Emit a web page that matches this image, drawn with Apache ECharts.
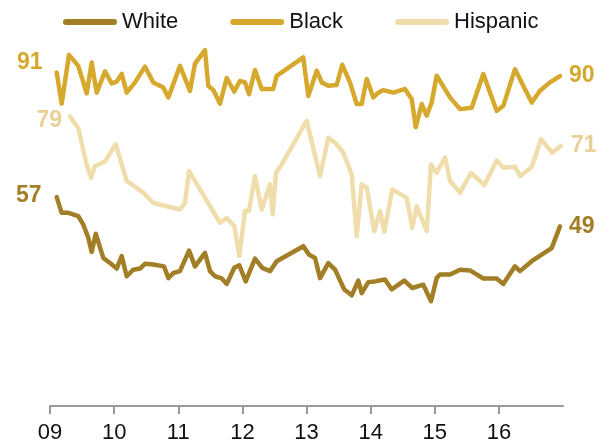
<!DOCTYPE html>
<html>
<head>
<meta charset="utf-8">
<script src="https://cdn.jsdelivr.net/npm/echarts@6/dist/echarts.min.js"></script>
<style>
html,body{margin:0;padding:0;background:#fff;}
#chart{width:613px;height:447px;}
</style>
</head>
<body>
<div id="chart"></div>
<script>
const tickYears = [2009, 2010, 2011, 2012, 2013, 2014, 2015, 2016];
const tickLabels = ['09', '10', '11', '12', '13', '14', '15', '16'];
const seriesNames = ['White', 'Black', 'Hispanic'];

const whiteYears = [2009.104, 2009.182, 2009.285, 2009.441, 2009.519, 2009.597, 2009.650, 2009.713, 2009.831, 2009.936, 2010.040, 2010.118, 2010.196, 2010.299, 2010.404, 2010.481, 2010.611, 2010.778, 2010.845, 2010.923, 2011.027, 2011.168, 2011.261, 2011.417, 2011.495, 2011.573, 2011.678, 2011.756, 2011.874, 2011.952, 2012.052, 2012.197, 2012.311, 2012.431, 2012.535, 2012.950, 2013.039, 2013.133, 2013.211, 2013.340, 2013.445, 2013.589, 2013.705, 2013.808, 2013.861, 2013.964, 2014.068, 2014.224, 2014.329, 2014.525, 2014.650, 2014.821, 2014.942, 2015.030, 2015.082, 2015.238, 2015.394, 2015.550, 2015.757, 2015.966, 2016.069, 2016.251, 2016.329, 2016.512, 2016.824, 2016.953];
const whiteValues = [57, 52.7, 52.7, 51.8, 49.5, 45.9, 42.0, 47.0, 40.4, 39.0, 37.5, 40.9, 35.4, 37.2, 37.5, 38.8, 38.6, 38.1, 34.9, 36.3, 36.8, 42.4, 38.1, 41.8, 36.8, 35.4, 34.8, 33.3, 37.7, 38.4, 34.0, 40.2, 37.7, 36.8, 39.5, 43.6, 41.3, 40.4, 34.9, 39.0, 37.2, 31.8, 30.2, 34.2, 30.8, 33.8, 34.0, 34.5, 31.8, 34.2, 32.2, 33.1, 28.6, 34.9, 35.9, 35.9, 37.2, 37.0, 34.8, 34.8, 33.3, 38.1, 36.8, 39.5, 43.1, 49];

const blackYears = [2009.104, 2009.182, 2009.296, 2009.441, 2009.572, 2009.650, 2009.728, 2009.858, 2009.962, 2010.040, 2010.118, 2010.196, 2010.326, 2010.481, 2010.611, 2010.767, 2010.845, 2011.027, 2011.183, 2011.261, 2011.417, 2011.468, 2011.547, 2011.651, 2011.756, 2011.874, 2011.963, 2012.041, 2012.103, 2012.197, 2012.301, 2012.482, 2012.535, 2012.950, 2013.028, 2013.159, 2013.237, 2013.340, 2013.471, 2013.558, 2013.678, 2013.783, 2013.861, 2013.939, 2014.042, 2014.120, 2014.198, 2014.354, 2014.536, 2014.641, 2014.703, 2014.797, 2014.874, 2014.952, 2015.030, 2015.238, 2015.394, 2015.576, 2015.757, 2015.966, 2016.069, 2016.251, 2016.512, 2016.641, 2016.797, 2016.953];
const blackValues = [91, 82.5, 95.8, 92.8, 85.3, 93.7, 85.5, 91.3, 88.0, 88.5, 90.6, 85.5, 88.3, 92.6, 88.3, 86.9, 84.2, 92.8, 86.0, 93.4, 97.1, 87.4, 86.2, 82.5, 89.5, 85.8, 88.7, 88.3, 85.1, 91.7, 86.5, 86.5, 90.1, 95.1, 84.6, 91.5, 88.3, 87.4, 87.6, 93.1, 88.3, 82.4, 82.4, 89.2, 84.2, 85.5, 86.2, 85.5, 86.5, 83.7, 76.1, 82.4, 79.2, 82.8, 90.1, 84.2, 81.0, 81.4, 90.6, 80.5, 81.9, 91.9, 82.8, 86.0, 88.3, 90];

const hispanicYears = [2009.312, 2009.441, 2009.572, 2009.639, 2009.702, 2009.858, 2010.025, 2010.196, 2010.455, 2010.611, 2011.027, 2011.105, 2011.168, 2011.417, 2011.651, 2011.756, 2011.874, 2011.952, 2012.041, 2012.103, 2012.197, 2012.301, 2012.431, 2012.473, 2012.524, 2012.613, 2013.003, 2013.211, 2013.340, 2013.471, 2013.574, 2013.705, 2013.783, 2013.861, 2013.939, 2014.057, 2014.146, 2014.213, 2014.338, 2014.563, 2014.650, 2014.719, 2014.874, 2014.942, 2015.030, 2015.160, 2015.238, 2015.394, 2015.565, 2015.773, 2015.966, 2016.069, 2016.251, 2016.329, 2016.512, 2016.657, 2016.833, 2016.969];
const hispanicValues = [79, 75.8, 65.9, 62.3, 65.5, 66.7, 71.4, 61.4, 58.2, 55.4, 53.6, 55.4, 64.1, 56.8, 50.0, 51.3, 49.1, 40.9, 53.2, 53.2, 62.7, 53.6, 60.5, 52.3, 63.6, 65.9, 77.8, 62.7, 73.2, 71.4, 69.1, 63.2, 46.3, 60.5, 59.5, 47.7, 53.2, 47.5, 59.1, 56.8, 48.6, 54.5, 47.7, 65.9, 63.6, 67.8, 61.4, 58.2, 63.6, 60.3, 67.0, 65.0, 65.3, 62.7, 65.2, 72.8, 69.1, 71];

const FONT = '"Liberation Sans", Arial, sans-serif';

function buildData(xs, ys, labelColor, startShift, endDist) {
  return xs.map(function (x, i) {
    const item = { value: [x, ys[i]] };
    const base = {
      show: true, color: labelColor, fontFamily: FONT, fontWeight: 'bold', fontSize: 23,
      formatter: function (p) { return String(Math.round(p.value[1])); }
    };
    if (i === 0) {
      item.label = Object.assign({}, base, { position: startShift, align: 'right', verticalAlign: 'middle' });
    } else if (i === xs.length - 1) {
      item.label = Object.assign({}, base, { position: 'right', distance: endDist });
    }
    return item;
  });
}

function lineSeries(name, xs, ys, color, labelColor, startShift, endDist) {
  return {
    name: name,
    type: 'line',
    symbol: 'circle',
    symbolSize: 0.01,
    showSymbol: true,
    showAllSymbol: true,
    data: buildData(xs, ys, labelColor, startShift, endDist),
    lineStyle: { color: color, width: 4.5, join: 'round', cap: 'round' },
    itemStyle: { color: color, opacity: 1 },
    label: { show: false },
    labelLayout: { hideOverlap: false },
    emphasis: { disabled: true },
    animation: false
  };
}

const chart = echarts.init(document.getElementById('chart'), null, { renderer: 'canvas' });
chart.setOption({
  backgroundColor: '#ffffff',
  animation: false,
  legend: {
    data: seriesNames,
    left: 58,
    top: 6,
    icon: 'path://M3,0 L51,0 A3,3 0 0 1 51,6 L3,6 A3,3 0 0 1 3,0 Z',
    itemWidth: 54,
    itemHeight: 6,
    itemGap: 52,
    textStyle: { fontFamily: FONT, fontSize: 22, color: '#111' }
  },
  grid: { left: 50, right: 50, top: 39.5, bottom: 41, containLabel: false },
  xAxis: {
    type: 'value',
    min: 2009,
    max: 2017,
    interval: 1,
    splitLine: { show: false },
    axisLine: { show: true, lineStyle: { color: '#999999', width: 2 } },
    axisTick: { show: true, length: 8, customValues: tickYears, lineStyle: { color: '#999999', width: 2 } },
    axisLabel: {
      customValues: tickYears,
      margin: 16,
      fontFamily: FONT,
      fontSize: 22,
      color: '#111',
      formatter: function (v) { const i = tickYears.indexOf(Math.round(v)); return i >= 0 ? tickLabels[i] : ''; }
    }
  },
  yAxis: {
    type: 'value',
    min: 0,
    max: 100,
    show: false,
    splitLine: { show: false }
  },
  series: [
    lineSeries(seriesNames[0], whiteYears, whiteValues, '#a27e26', '#a27e26', [-15, -1], 9),
    lineSeries(seriesNames[1], blackYears, blackValues, '#d6a92e', '#d6a92e', [-14, -10], 9),
    lineSeries(seriesNames[2], hispanicYears, hispanicValues, '#efdeac', '#e8d196', [-8, 4], 10)
  ]
});
</script>
</body>
</html>
